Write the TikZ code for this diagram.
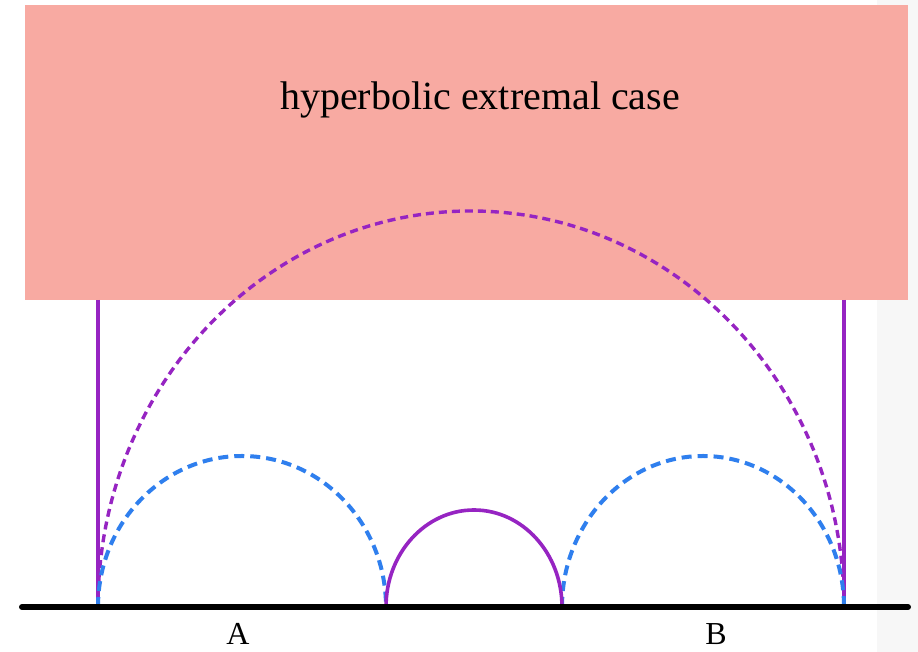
\documentclass[tikz,border=0pt]{standalone}
\usepackage{fontspec}
\setmainfont{Liberation Serif}
\definecolor{pinkbox}{HTML}{F8AAA2}
\definecolor{geopurple}{HTML}{9624C2}
\definecolor{geoblue}{HTML}{2F7FEE}
\tikzset{
  purplesolid/.style={draw=geopurple, line width=3.6pt},
  purplevert/.style={draw=geopurple, line width=3.2pt},
  purpledash/.style={draw=geopurple, line width=3.4pt, dash pattern=on 8pt off 5pt},
  bluedash/.style={draw=geoblue, line width=4pt, dash pattern=on 10pt off 6pt},
  lbl/.style={inner sep=0pt, font=\fontsize{32}{38}\selectfont},
  titlelbl/.style={inner sep=0pt, font=\fontsize{40}{46}\selectfont},
}
\begin{document}
\begin{tikzpicture}[x=1pt,y=1pt]
\useasboundingbox (0,0) rectangle (918,652);
\fill[white] (0,0) rectangle (918,652);
\fill[black!3] (877,0) rectangle (918,652);
% pink region
\fill[pinkbox] (25,352) rectangle (908,647);
\node[titlelbl, anchor=base] (title) at (480,542) {hyperbolic extremal case};
% vertical lines
\coordinate (Ltop) at (98,352);
\coordinate (Lbot) at (98,45);
\coordinate (Rtop) at (844,352);
\coordinate (Rbot) at (844,45);
\draw[purplevert] (Ltop) -- (Lbot);
\draw[purplevert] (Rtop) -- (Rbot);
% big dashed arc
\draw[purpledash] (Lbot) arc[start angle=180, end angle=0, x radius=373, y radius=396];
% blue dashed arcs
\coordinate (M1) at (386,45);
\coordinate (M2) at (562,45);
\draw[bluedash] (Lbot) arc[start angle=180, end angle=0, x radius=144, y radius=151];
\draw[bluedash] (M2) arc[start angle=180, end angle=0, x radius=141, y radius=151];
% small solid purple arc
\draw[purplesolid] (M1) arc[start angle=180, end angle=0, x radius=88, y radius=97];
% baseline
\coordinate (base1) at (22,45);
\coordinate (base2) at (908,45);
\draw[black, line width=6pt, line cap=round] (base1) -- (base2);
% labels
\node[lbl, anchor=base] (A) at (238,7) {A};
\node[lbl, anchor=base] (B) at (716,7) {B};
\end{tikzpicture}
\end{document}
